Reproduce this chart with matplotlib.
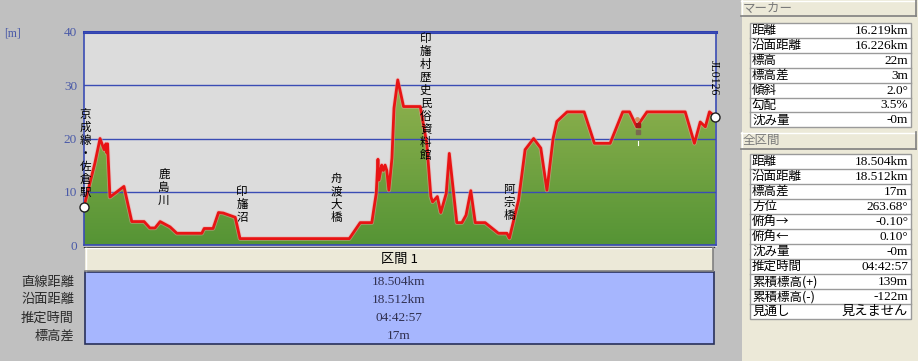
import numpy as np
import matplotlib
matplotlib.use("Agg")
import matplotlib.pyplot as plt
from matplotlib.colors import LinearSegmentedColormap
from matplotlib.patches import Rectangle

plt.rcParams['font.family'] = ['Noto Sans CJK JP', 'DejaVu Sans']

# ---------------- data ----------------
dist_km = [0.00, 0.32, 0.47, 0.59, 0.64, 0.67, 0.69, 0.76, 1.17, 1.40, 1.76, 1.93, 2.08,
           2.23, 2.52, 2.72, 3.45, 3.52, 3.78, 3.94, 4.08, 4.43, 4.57, 7.77, 8.09, 8.43,
           8.50, 8.56, 8.61, 8.64, 8.72, 8.77, 8.82, 8.87, 8.93, 9.02, 9.08, 9.19, 9.36,
           9.85, 10.04, 10.16, 10.21, 10.35, 10.45, 10.61, 10.70, 10.80, 10.92, 11.07,
           11.19, 11.33, 11.46, 11.75, 12.14, 12.39, 12.46, 12.73, 12.92, 13.17, 13.38,
           13.56, 13.74, 13.85, 14.15, 14.65, 14.95, 15.41, 15.78, 15.98, 16.19, 16.49,
           17.61, 17.88, 18.05, 18.20, 18.32, 18.49]
elev_m = [7.2, 15.4, 20.0, 17.9, 19.0, 17.3, 19.0, 9.0, 11.0, 4.4, 4.4, 3.2, 3.2,
          4.4, 3.4, 2.2, 2.2, 3.1, 3.1, 6.1, 6.0, 5.2, 1.2, 1.2, 4.2, 4.2,
          7.2, 9.7, 16.1, 12.2, 15.0, 14.0, 15.0, 14.0, 10.3, 16.3, 25.7, 31.0, 26.0,
          26.0, 19.1, 9.1, 8.1, 9.1, 6.1, 9.7, 17.2, 11.3, 4.2, 4.2,
          5.6, 10.2, 4.2, 4.2, 2.2, 2.2, 1.3, 8.5, 17.9, 20.0, 18.2,
          10.3, 20.0, 23.2, 25.0, 25.0, 19.1, 19.1, 25.0, 25.0, 22.2, 25.0,
          25.0, 19.1, 23.1, 22.2, 25.0, 24.1]
total_km = 18.512
y_ticks = [0, 10, 20, 30, 40]

# place labels along the route (distance km, label)
place_km = [0.04, 2.34, 4.63, 7.38, 10.01, 12.45]
place_names = ["京成線・佐倉駅", "鹿島川", "印旛沼", "舟渡大橋", "印旛村歴史民俗資料館", "阿宗橋"]
end_label = "JL0126"

marker_km = 16.219
marker_elev = 22

marker_labels = ["距離", "沿面距離", "標高", "標高差", "傾斜", "勾配", "沈み量"]
marker_values = ["16.219km", "16.226km", "22m", "3m", "2.0°", "3.5%", "-0m"]
total_labels = ["距離", "沿面距離", "標高差", "方位", "俯角→", "俯角←", "沈み量",
                "推定時間", "累積標高(+)", "累積標高(-)", "見通し"]
total_values = ["18.504km", "18.512km", "17m", "263.68°", "-0.10°", "0.10°", "-0m",
                "04:42:57", "139m", "-122m", "見えません"]
section_header = "区間 1"
section_labels = ["直線距離", "沿面距離", "推定時間", "標高差"]
section_values = ["18.504km", "18.512km", "04:42:57", "17m"]

# ---------------- figure ----------------
W, H = 918, 361
fig = plt.figure(figsize=(W / 100, H / 100), dpi=100, facecolor='#c0c0c0')
bg = fig.add_axes([0, 0, 1, 1], zorder=0)
bg.set_xlim(0, W)
bg.set_ylim(H, 0)
bg.axis('off')

NUMF = ['Liberation Serif', 'Noto Sans CJK JP']
CJK = ['Noto Sans CJK JP', 'DejaVu Sans']

def bevel(x0, y0, x1, y1, face='#ece9d8'):
    bg.add_patch(Rectangle((x0, y0), x1 - x0, y1 - y0, facecolor=face, edgecolor='none'))
    bg.plot([x0, x1], [y0 + 0.5, y0 + 0.5], color='white', lw=1)
    bg.plot([x0 + 0.5, x0 + 0.5], [y0, y1], color='white', lw=1)
    bg.plot([x0, x1], [y1 - 0.5, y1 - 0.5], color='#808080', lw=1.2)
    bg.plot([x1 - 0.5, x1 - 0.5], [y0, y1], color='#808080', lw=1.2)

# right panel
bg.add_patch(Rectangle((742, 0), W - 742, H, facecolor='#ece9d8', edgecolor='none'))
bevel(741, 0, 916, 16)
bg.text(743, 8, "マーカー", color='#7a7a7a', fontsize=9, va='center', ha='left', family=CJK)
bevel(741, 132, 916, 149)
bg.text(743, 140.5, "全区間", color='#7a7a7a', fontsize=9, va='center', ha='left', family=CJK)

def table(y0, rh, labels, values):
    n = len(labels)
    bg.add_patch(Rectangle((750, y0), 160.5, rh * n, facecolor='white',
                           edgecolor='#9a9a9a', lw=1))
    for i, (lab, val) in enumerate(zip(labels, values)):
        yc = y0 + rh * (i + 0.5)
        if i > 0:
            bg.plot([750, 910.5], [y0 + rh * i] * 2, color='#9a9a9a', lw=1)
        bg.text(752, yc, lab, fontsize=9, va='center', ha='left', color='black', family=CJK)
        bg.text(908, yc + 0.5, val, fontsize=9.5, va='center', ha='right', color='black', family=NUMF)

table(23, 14.9, marker_labels, marker_values)
table(154, 15.03, total_labels, total_values)

# bottom section table
bg.plot([84, 716], [245.5, 245.5], color='#e0e0e0', lw=1)
bg.plot([84, 714], [247, 247], color='#303030', lw=1)
bevel(85, 247.5, 713, 271)
bg.text(399, 259.5, section_header, fontsize=9.5, ha='center', va='center', color='black', family=NUMF[::-1])
bg.add_patch(Rectangle((84.5, 271.5), 629, 72.5, facecolor='#a6b6fe', edgecolor='#28305a', lw=1.2))
row_y = [282, 300, 318, 336]
for yc, lab, val in zip(row_y, section_labels, section_values):
    bg.text(74, yc, lab, fontsize=9.5, ha='right', va='center', color='#2a2a2a', family=CJK)
    bg.text(398.5, yc, val, fontsize=9.5, ha='center', va='center', color='#303050', family=NUMF)

bg.text(4, 34, "[m]", fontsize=8.5, color='#4a5aa8', ha='left', va='center', family=NUMF)

# ---------------- profile chart ----------------
x0p, x1p, ytop, ybot = 84, 716, 32, 245
ax = fig.add_axes([x0p / W, 1 - ybot / H, (x1p - x0p) / W, (ybot - ytop) / H], zorder=2)
ax.set_facecolor('#dcdcdc')
ax.set_xlim(0, total_km)
ax.set_ylim(0, 40)
ax.set_yticks(y_ticks)
ax.set_yticklabels([str(t) for t in y_ticks], family=NUMF, fontsize=9.5, color='#4a5aa8')
ax.set_xticks([])
ax.tick_params(axis='y', length=0, pad=5)
ax.yaxis.grid(True, color='#3a4cb4', lw=1)
ax.set_axisbelow(False)
for s in ['left', 'right', 'bottom']:
    ax.spines[s].set_color('#3a4cb4')
    ax.spines[s].set_linewidth(1.2)
ax.spines['top'].set_color('#3040b0')
ax.spines['top'].set_linewidth(2.2)

cmap = LinearSegmentedColormap.from_list('terrain_g', ['#559435', '#93b350'])
grad = np.linspace(0, 1, 256).reshape(-1, 1)
im = ax.imshow(grad, extent=[0, total_km, 0, 31.5], origin='lower', cmap=cmap,
               aspect='auto', zorder=1, interpolation='bilinear')
poly = ax.fill_between(dist_km, elev_m, 0, facecolor='none', edgecolor='none')
im.set_clip_path(poly.get_paths()[0], transform=ax.transData)
ax.plot(dist_km, elev_m, color='#f0a0a0', lw=3.2, alpha=0.5, zorder=3)
ax.plot(dist_km, elev_m, color='#e81414', lw=2.0, zorder=4, solid_joinstyle='round')

# start/end markers
ax.plot([dist_km[0], dist_km[-1]], [elev_m[0], elev_m[-1]], 'o', ms=6.5, mfc='white',
        mec='#202020', mew=1.0, zorder=6, clip_on=False)

# hiker marker
ax.plot([marker_km, marker_km], [marker_elev - 2.4, marker_elev - 3.3], color='white', lw=0.8, zorder=5)
ax.plot([marker_km], [marker_elev + 0.6], marker='s', ms=3.5, color='#a01818', zorder=6)
ax.plot([marker_km - 0.03], [marker_elev + 1.6], marker='o', ms=2.5, color='#d09060', zorder=6)
ax.plot([marker_km], [marker_elev - 0.8], marker='s', ms=3, color='#7a6a50', zorder=6)

# place labels (vertical text)
label_top_px = [108, 168, 185, 172, 32, 183]
for km, name, ytp in zip(place_km, place_names, label_top_px):
    yv = (ybot - ytp) / (ybot - ytop) * 40
    ax.text(km, yv, "\n".join(name), fontsize=8.3, linespacing=1.0, ha='center', va='top',
            color='black', zorder=7, clip_on=False, family=CJK)
ax.text(18.45, (ybot - 60) / (ybot - ytop) * 40, end_label, rotation=-90, fontsize=8.5,
        ha='center', va='top', color='black', zorder=7, family=NUMF)

fig.savefig('out.png', dpi=100, facecolor=fig.get_facecolor())
